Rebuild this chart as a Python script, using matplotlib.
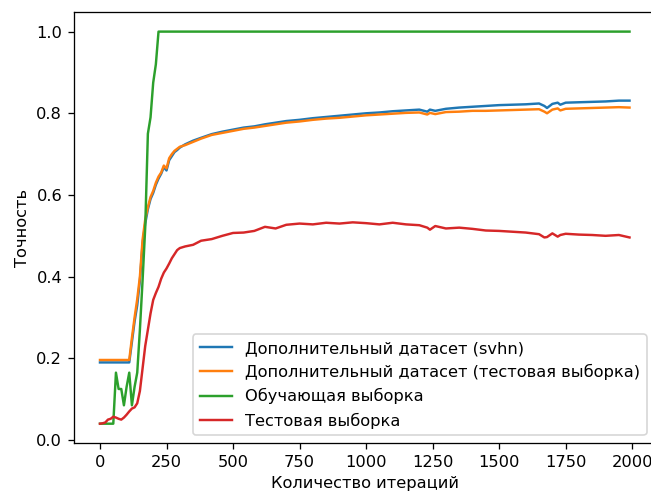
import matplotlib
matplotlib.use('Agg')
import matplotlib.pyplot as plt

iters = [0, 10, 20, 30, 40, 50, 60, 70, 80, 90, 100, 110, 120, 130, 140, 150,
         160, 170, 180, 190, 200, 210, 220, 230, 240, 250, 260, 270, 280, 290, 300,
         320, 350, 380, 420, 460, 500, 540, 580, 620, 660, 700, 750, 800, 850, 900,
         950, 1000, 1050, 1100, 1150, 1200, 1230, 1240, 1260, 1300, 1350, 1400, 1450,
         1500, 1550, 1600, 1650, 1670, 1680, 1700, 1720, 1730, 1750, 1800, 1850, 1900,
         1950, 1990]

svhn = [0.19] * 12 + [
    0.24, 0.29, 0.33, 0.39, 0.48, 0.53, 0.565, 0.59, 0.605, 0.625, 0.64, 0.652,
    0.668, 0.66, 0.685, 0.695, 0.705, 0.71, 0.716,
    0.724, 0.733, 0.74, 0.749, 0.755, 0.76, 0.765, 0.768, 0.773, 0.777, 0.781,
    0.784, 0.788, 0.791, 0.794, 0.797, 0.800, 0.802, 0.805, 0.807, 0.809, 0.804,
    0.809, 0.806, 0.811, 0.814, 0.816, 0.818, 0.82, 0.821, 0.822, 0.824, 0.818,
    0.813, 0.823, 0.826, 0.821, 0.826, 0.827, 0.828, 0.829, 0.831, 0.831]

svhn_test = [0.196] * 12 + [
    0.25, 0.30, 0.345, 0.40, 0.49, 0.54, 0.57, 0.595, 0.61, 0.63, 0.645, 0.655,
    0.672, 0.665, 0.69, 0.70, 0.708, 0.713, 0.718,
    0.722, 0.73, 0.738, 0.747, 0.752, 0.757, 0.762, 0.765, 0.769, 0.773, 0.777,
    0.78, 0.784, 0.787, 0.789, 0.792, 0.795, 0.797, 0.799, 0.801, 0.802, 0.797,
    0.801, 0.798, 0.803, 0.804, 0.806, 0.806, 0.807, 0.808, 0.809, 0.81, 0.804,
    0.800, 0.809, 0.812, 0.807, 0.811, 0.812, 0.813, 0.814, 0.815, 0.814]

train = [0.04] * 6 + [
    0.165, 0.125, 0.125, 0.085, 0.13, 0.165, 0.085, 0.13, 0.165, 0.27, 0.39,
    0.52, 0.75, 0.79, 0.875, 0.92] + [1.0] * 52

test = [
    0.04, 0.041, 0.043, 0.05, 0.052, 0.057, 0.055, 0.052, 0.05, 0.055, 0.062,
    0.07, 0.077, 0.08, 0.09, 0.12, 0.175, 0.23, 0.27, 0.31, 0.343, 0.36, 0.375,
    0.395, 0.41, 0.42, 0.432, 0.445, 0.455, 0.465, 0.47,
    0.474, 0.478, 0.488, 0.492, 0.5, 0.507, 0.508, 0.512, 0.522, 0.518, 0.527,
    0.53, 0.528, 0.532, 0.53, 0.533, 0.531, 0.528, 0.532, 0.528, 0.526, 0.52,
    0.515, 0.524, 0.518, 0.52, 0.517, 0.513, 0.512, 0.51, 0.508, 0.504, 0.496,
    0.497, 0.506, 0.498, 0.502, 0.505, 0.503, 0.502, 0.5, 0.502, 0.496]

labels = ['Дополнительный датасет (svhn)',
          'Дополнительный датасет (тестовая выборка)',
          'Обучающая выборка',
          'Тестовая выборка']

# рисунок обрезан справа, поэтому правая граница осей за краем картинки
dpi = 117
fig = plt.figure(figsize=(651 / dpi, 495 / dpi), dpi=dpi)
ax = fig.add_subplot(111)
fig.subplots_adjust(left=73.5 / 651, right=656 / 651, top=1 - 12 / 495, bottom=1 - 443.3 / 495)

ax.plot(iters, svhn, label=labels[0])
ax.plot(iters, svhn_test, label=labels[1])
ax.plot(iters, train, label=labels[2])
ax.plot(iters, test, label=labels[3])

ax.set_xlabel('Количество итераций')
ax.set_ylabel('Точность')
ax.set_xticks([0, 250, 500, 750, 1000, 1250, 1500, 1750, 2000])
ax.legend(loc='lower right', bbox_to_anchor=(0.9978, 0.0))

fig.savefig('out.png', dpi=dpi)
